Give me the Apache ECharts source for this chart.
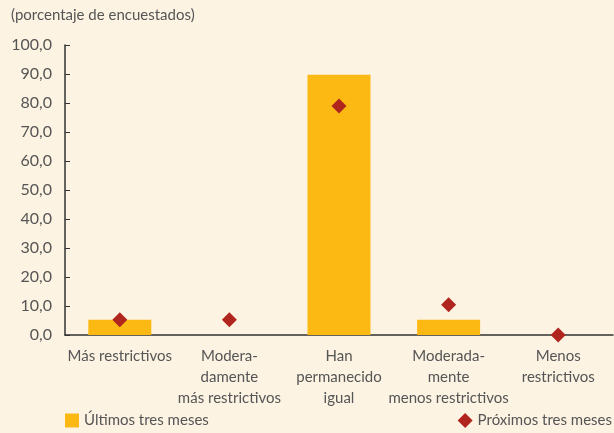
<!DOCTYPE html>
<html><head><meta charset="utf-8">
<script src="https://cdn.jsdelivr.net/npm/echarts@6/dist/echarts.min.js"></script>
<style>html,body{margin:0;padding:0;background:#fcf3e3;}#c{width:614px;height:433px;}</style>
</head><body><div id="c"></div>
<script>
const categories = ["Más restrictivos", "Modera-\ndamente\nmás restrictivos", "Han\npermanecido\nigual", "Moderada-\nmente\nmenos restrictivos", "Menos\nrestrictivos"];
const ultimos = [5.3, 0, 89.7, 5.3, 0];
const proximos = [5.3, 5.3, 79.0, 10.4, 0];
const yTicks = [0, 10, 20, 30, 40, 50, 60, 70, 80, 90, 100];
const txt = '#555';
const font = 'Lato';
const chart = echarts.init(document.getElementById('c'));
chart.setOption({
  backgroundColor: '#fcf3e3',
  animation: false,
  textStyle: {fontFamily: font},
  title: {text: '(porcentaje de encuestados)', left: 6, top: 3,
    textStyle: {fontSize: 15, fontWeight: 'normal', color: txt, fontFamily: font}},
  grid: {left: 65, right: 1, top: 45, bottom: 98, containLabel: false},
  legend: [
    {data: [{name: 'Últimos tres meses', icon: 'rect'}], left: 60, bottom: 0, itemWidth: 14, itemHeight: 14, itemGap: 6,
     textStyle: {fontSize: 15, color: txt, fontFamily: font}},
    {data: [{name: 'Próximos tres meses', icon: 'diamond'}], right: -3, bottom: 0, itemWidth: 15, itemHeight: 15,
     textStyle: {fontSize: 15, color: txt, fontFamily: font}}
  ],
  xAxis: {type: 'category', data: categories,
    axisLine: {lineStyle: {color: '#333', width: 1.5}},
    axisTick: {inside: true, length: 5, lineStyle: {color: '#333'}},
    axisLabel: {fontSize: 15, color: txt, lineHeight: 21, margin: 11, interval: 0, fontFamily: font}},
  yAxis: {type: 'value', min: 0, max: 100, interval: 10,
    axisLine: {show: true, lineStyle: {color: '#333', width: 1.5}},
    axisTick: {show: true, inside: true, length: 5, lineStyle: {color: '#333'}},
    splitLine: {show: false},
    axisLabel: {fontSize: 16, color: txt, margin: 13, fontFamily: font,
      formatter: v => yTicks.includes(v) ? v.toFixed(1).replace('.', ',') : ''}},
  series: [
    {name: 'Últimos tres meses', type: 'bar', data: ultimos, barWidth: 63, itemStyle: {color: '#fdb913'}},
    {name: 'Próximos tres meses', type: 'scatter', data: proximos, symbol: 'diamond', symbolSize: [15, 15],
     itemStyle: {color: '#b0261e', opacity: 1}, z: 5}
  ]
});
</script></body></html>
